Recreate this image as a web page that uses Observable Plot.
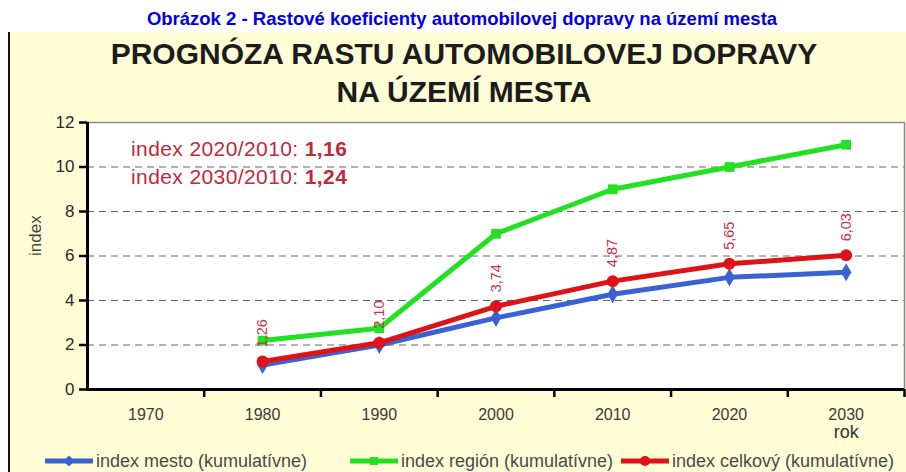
<!DOCTYPE html>
<html><head><meta charset="utf-8">
<script src="https://cdn.jsdelivr.net/npm/d3@7"></script>
<script src="https://cdn.jsdelivr.net/npm/@observablehq/plot@0.6"></script>
<style>
body{margin:0;background:#fff;font-family:"Liberation Sans",Arial,sans-serif;}
#page{position:relative;width:906px;height:472px;overflow:hidden;background:#fff;}
#panel{position:absolute;left:8px;top:32px;right:0;bottom:0;background:#fffdd6;border-left:2px solid #111;}
#caption{position:absolute;left:9px;top:9px;width:906px;text-align:center;font-weight:bold;font-size:18.5px;line-height:20px;color:#0000ee;white-space:nowrap;}
#title{position:absolute;left:11px;top:35px;width:906px;text-align:center;font-weight:bold;font-size:30px;line-height:38px;color:#1c1c1c;}
#chart{position:absolute;left:0;top:0;}
#notes{position:absolute;left:131px;top:135px;font-size:21px;line-height:28px;letter-spacing:0.4px;color:#c2283a;white-space:nowrap;}
#notes b{font-weight:bold;}
#legend{position:absolute;left:0;top:450px;width:906px;height:22px;font-size:18px;line-height:22px;color:#4a4a4a;white-space:nowrap;}
#legend .item{position:absolute;top:0;display:flex;align-items:center;}
#legend svg{margin-right:2px;}
</style></head>
<body>
<div id="page">
  <div id="panel"></div>
  <div id="caption"></div>
  <div id="title"></div>
  <div id="chart"></div>
  <div id="notes"></div>
  <div id="legend"></div>
</div>
<script>
const caption = "Obrázok 2 - Rastové koeficienty automobilovej dopravy na území mesta";
const titleLines = ["PROGNÓZA RASTU AUTOMOBILOVEJ DOPRAVY", "NA ÚZEMÍ MESTA"];
const years = [1970, 1980, 1990, 2000, 2010, 2020, 2030];
const seriesNames = ["index mesto (kumulatívne)", "index región (kumulatívne)", "index celkový (kumulatívne)"];
const mesto   = [null, 1.10, 2.00, 3.22, 4.28, 5.04, 5.27];
const region  = [null, 2.20, 2.75, 7.00, 9.00, 10.00, 11.00];
const celkovy = [null, 1.26, 2.10, 3.74, 4.87, 5.65, 6.03];
const seriesColors = ["#3a62d4", "#22e022", "#dd1318"];
const seriesSymbols = ["diamond", "square", "circle"];
const yTicks = [0, 2, 4, 6, 8, 10, 12];
const yLabel = "index";
const xLabel = "rok";
const ratioLabels = ["index 2020/2010: ", "index 2030/2010: "];
const ratioValues = ["1,16", "1,24"];
const labelColor = "#cf2f45";

document.getElementById("caption").textContent = caption;
document.getElementById("title").innerHTML = titleLines.join("<br>");
document.getElementById("notes").innerHTML = ratioLabels.map((l, i) => `${l}<b>${ratioValues[i]}</b>`).join("<br>");

const allSeries = [mesto, region, celkovy];
const rows = allSeries.flatMap((arr, s) => years.map((yr, i) => ({year: yr, value: arr[i], series: seriesNames[s]})).filter(d => d.value != null));
const step = years[1] - years[0];
const xDomain = [years[0] - step / 2, years[years.length - 1] + step / 2];
const edges = years.map(y => y + step / 2);
const fmt = v => d3.format(".2f")(v).replace(".", ",");
const totalRows = rows.filter(d => d.series === seriesNames[2]);

const marks = [
  Plot.frame({fill: "white", stroke: "#8a8a8a", strokeWidth: 1.5}),
  Plot.gridY(yTicks.slice(1, -1), {stroke: "#666", strokeOpacity: 1, strokeDasharray: "7,5", strokeWidth: 1.2}),
  Plot.axisX(edges, {tickSize: 8, tickFormat: () => "", stroke: "#000", strokeWidth: 2.5, label: null}),
  Plot.axisX(years, {tickSize: 0, tickPadding: 19, tickFormat: d => String(d), fontSize: 16, fill: "#3a3a3a", label: null}),
  Plot.axisY(yTicks, {tickSize: 8, tickPadding: 5, fontSize: 17, fill: "#2a2a2a", stroke: "#000", strokeWidth: 2.5, label: null}),
  Plot.ruleX([xDomain[0]], {stroke: "#000", strokeWidth: 3, y1: 0, y2: 12}),
  Plot.ruleY([0], {stroke: "#000", strokeWidth: 3})
];
seriesNames.forEach((name, s) => {
  const data = rows.filter(d => d.series === name);
  marks.push(Plot.line(data, {x: "year", y: "value", stroke: seriesColors[s], strokeWidth: 5}));
  marks.push(Plot.dot(data, {x: "year", y: "value", fill: seriesColors[s], symbol: () => seriesSymbols[s], r: s === 2 ? 6 : 5.5, stroke: "none"}));
});
marks.push(Plot.text(totalRows, {x: "year", y: "value", text: d => fmt(d.value), rotate: -90, textAnchor: "start", lineAnchor: "middle", dy: -14, fill: labelColor, fontSize: 14.5}));
marks.push(Plot.text([yLabel], {frameAnchor: "left", dx: -52, rotate: -90, fontSize: 17, fill: "#444"}));
marks.push(Plot.text([xLabel], {x: years[years.length - 1], frameAnchor: "bottom", dy: 48, fontSize: 18, fill: "#333"}));

const chart = Plot.plot({
  width: 906, height: 472,
  marginTop: 122, marginRight: 2, marginBottom: 83, marginLeft: 87,
  style: {background: "transparent", fontFamily: "Liberation Sans, Arial, sans-serif"},
  x: {type: "linear", domain: xDomain, label: null},
  y: {domain: [yTicks[0], yTicks[yTicks.length - 1]], label: null},
  symbol: {type: "identity"},
  marks
});
document.getElementById("chart").appendChild(chart);

const legendX = [44, 349, 620];
const legend = document.getElementById("legend");
seriesNames.forEach((name, s) => {
  const item = document.createElement("div");
  item.className = "item";
  item.style.left = legendX[s] + "px";
  const sw = d3.create("svg").attr("width", 50).attr("height", 22);
  sw.append("line").attr("x1", 1).attr("x2", 49).attr("y1", 11).attr("y2", 11).attr("stroke", seriesColors[s]).attr("stroke-width", 5);
  sw.append("path").attr("transform", "translate(25,11)").attr("d", d3.symbol(s === 0 ? d3.symbolDiamond2 : s === 1 ? d3.symbolSquare2 : d3.symbolCircle, 80)()).attr("fill", seriesColors[s]);
  item.appendChild(sw.node());
  const t = document.createElement("span");
  t.textContent = name;
  item.appendChild(t);
  legend.appendChild(item);
});
</script>
</body></html>
